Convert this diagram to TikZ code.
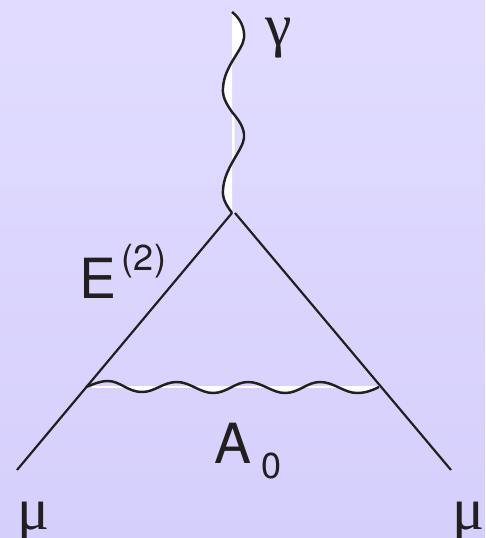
\documentclass[tikz,border=0pt]{standalone}
\usepackage{fontspec}
\setmainfont{TeX Gyre Heros}
\newfontfamily\greekfont{Liberation Serif}
\definecolor{bgtop}{RGB}{225,220,255}
\definecolor{bgbot}{RGB}{213,207,252}
\definecolor{inkline}{RGB}{35,31,32}
\usetikzlibrary{calc,positioning}
\newcommand{\photonwave}{(232,12) .. controls (240,18) and (245,28) .. (244,38)
    .. controls (243,50) and (224,66) .. (223,88)
    .. controls (222,98) and (228,106) .. (232,112)
    .. controls (238,119) and (245,128) .. (244,138)
    .. controls (243,150) and (224,168) .. (223,190)
    .. controls (222,200) and (228,207) .. (232,213)}
\newcommand{\gaugewave}{(86,387) .. controls (94,384) and (100,381) .. (108,381)
    .. controls (120,381) and (128,392) .. (142,392)
    .. controls (155,392) and (163,382) .. (177,382)
    .. controls (190,382) and (200,393) .. (213,393)
    .. controls (227,393) and (235,382) .. (248,382)
    .. controls (262,382) and (272,393) .. (285,393)
    .. controls (299,393) and (307,382) .. (320,382)
    .. controls (334,382) and (344,393) .. (357,393)
    .. controls (366,393) and (373,390) .. (379,387)}
\begin{document}
\begin{tikzpicture}[x=0.02cm,y=-0.02cm,
  fermion/.style={draw=inkline,line width=1.25pt},
  boson/.style={draw=inkline,line width=1.4pt},
  lbl/.style={inner sep=0pt,text=inkline,anchor=base},
  bigsans/.style={font=\fontsize{31.5}{32}\selectfont},
  smallsans/.style={font=\fontsize{20.5}{21}\selectfont},
  greeksym/.style={font=\fontsize{34}{34}\greekfont}]
  \useasboundingbox (0,0) rectangle (485,538);
  \shade[top color=bgtop,bottom color=bgbot] (0,0) rectangle (485,538);
  \coordinate (V) at (232,213);
  \coordinate (Vr) at (235,213);
  \coordinate (L) at (17,470);
  \coordinate (R) at (451,470);
  % white behind the wiggles
  \begin{scope}
    \clip (215,5) rectangle (250,112);
    \fill[white] \photonwave -- cycle;
  \end{scope}
  \begin{scope}
    \clip (215,112) rectangle (234.5,215);
    \fill[white] \photonwave -- cycle;
  \end{scope}
  \begin{scope}
    \clip (86,386) rectangle (380,400);
    \fill[white] \gaugewave -- (379,370) -- (86,370) -- cycle;
  \end{scope}
  \fill[white] (92,386) rectangle (372,388);
  % wiggles
  \draw[boson] \photonwave;
  \draw[boson] \gaugewave;
  \draw[fermion] (V) -- (L);
  \draw[fermion] (Vr) -- (R);
  % labels
  \node[lbl,greeksym] (gam) at (279,45) {γ};
  \node[lbl,bigsans] (e) at (98,298) {E};
  \node[lbl,smallsans] (e2) at (144,270) {(2)};
  \node[lbl,bigsans] (a) at (233,463) {A};
  \node[lbl,smallsans] (a0) at (271.5,478) {0};
  \node[lbl,greeksym] (ml) at (34,529) {μ};
  \node[lbl,greeksym] (mr) at (469,529) {μ};
\end{tikzpicture}
\end{document}
